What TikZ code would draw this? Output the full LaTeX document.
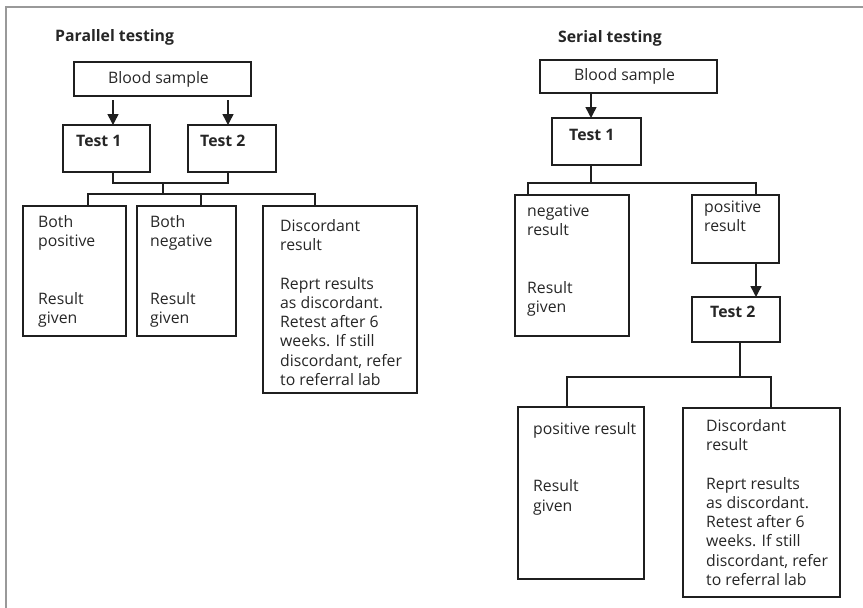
\documentclass[tikz,border=0pt]{standalone}
\usepackage{fontspec}
\setmainfont{Open Sans}
\usetikzlibrary{arrows.meta}
\newcommand\mlines[1]{\begin{tabular}[t]{@{}l@{}}#1\end{tabular}}
\begin{document}
\begin{tikzpicture}[x=1pt,y=-1pt,
  box/.style={draw=black!88, line width=1.5pt, inner sep=0pt, outer sep=0pt, anchor=north west},
  txt/.style={inner sep=0pt, anchor=base west, font=\fontsize{15.8}{19.2}\selectfont, text=black!85},
  ttl/.style={txt, font=\fontsize{15.8}{19.2}\selectfont\bfseries},
  ln/.style={line width=1.5pt, draw=black!88},
  arr/.style={ln, -{Triangle[length=11pt,width=11pt]}},
  frameline/.style={line width=2.6pt, draw=black!40}]
\useasboundingbox (0,0) rectangle (863,608);
% frame
\coordinate (fbl) at (5.8,608);
\coordinate (ftl) at (5.8,7);
\coordinate (ftr) at (863,7);
\draw[frameline] (fbl) -- (ftl) -- (ftr);

% ---------------- Parallel testing ----------------
\node[ttl] (ptitle) at (55,41.7) {Parallel testing};
\node[box, minimum width=177pt, minimum height=34pt] (bsL) at (74,62) {};
\node[txt] (bsLt) at (108,83.3) {Blood sample};
\node[box, minimum width=87pt, minimum height=47pt] (t1L) at (63,125) {};
\node[ttl] (t1Lt) at (76,146.7) {Test 1};
\node[box, minimum width=88pt, minimum height=47pt] (t2L) at (188,125) {};
\node[ttl] (t2Lt) at (200,146.7) {Test 2};
\node[box, minimum width=103pt, minimum height=130pt] (bpL) at (23,206) {};
\node[txt] (bpLt) at (38,227.7) {\mlines{Both\\positive\\[38.4pt]Result\\given}};
\node[box, minimum width=99pt, minimum height=130pt] (bnL) at (137,206) {};
\node[txt] (bnLt) at (150,227.7) {\mlines{Both\\negative\\[38.4pt]Result\\given}};
\node[box, minimum width=154pt, minimum height=187pt] (dL) at (263,206) {};
\node[txt] (dLt) at (280,231.7) {\mlines{Discordant\\result\\[19.2pt]Reprt results\\as discordant.\\Retest after 6\\weeks. If still\\discordant, refer\\to referral lab}};

\coordinate (xa1) at (113,0);
\coordinate (xa2) at (228,0);
\coordinate (jL) at (163,183);
\coordinate (hL) at (163,194);
\coordinate (x88) at (88,0);
\coordinate (x201) at (201,0);
\coordinate (x315) at (315,0);
\draw[arr] ([yshift=-4pt]bsL.south -| xa1) -- (t1L.north -| xa1);
\draw[arr] ([yshift=-4pt]bsL.south -| xa2) -- (t2L.north -| xa2);
\draw[ln] (t1L.south -| xa1) |- (jL) -| (t2L.south -| xa2);
\draw[ln] (jL) -- (hL);
\draw[ln] (bpL.north -| x88) |- (hL -| x315) -- (dL.north -| x315);
\draw[ln] (hL -| x201) -- (bnL.north -| x201);

% ---------------- Serial testing ----------------
\node[ttl] (stitle) at (558,42.3) {Serial testing};
\node[box, minimum width=177pt, minimum height=33pt] (bsR) at (540,60) {};
\node[txt] (bsRt) at (574,80) {Blood sample};
\node[box, minimum width=89pt, minimum height=47pt] (t1R) at (552,118) {};
\node[ttl] (t1Rt) at (569,140.7) {Test 1};
\node[box, minimum width=114pt, minimum height=141pt] (negR) at (515,195) {};
\node[txt] (negRt) at (527,216.5) {\mlines{negative\\result\\[38.4pt]Result\\given}};
\node[box, minimum width=87pt, minimum height=68pt] (posR) at (692,195) {};
\node[txt] (posRt) at (704,212) {\mlines{positive\\result}};
\node[box, minimum width=88pt, minimum height=45pt] (t2R) at (692,297) {};
\node[ttl] (t2Rt) at (710,317.3) {Test 2};
\node[box, minimum width=126pt, minimum height=172pt] (prR) at (518,407) {};
\node[txt] (prRt) at (533,434.3) {\mlines{positive result\\[38.4pt]Result\\given}};
\node[box, minimum width=157pt, minimum height=189pt] (dR) at (683,408) {};
\node[txt] (dRt) at (706,431.7) {\mlines{Discordant\\result\\[19.2pt]Reprt results\\as discordant.\\Retest after 6\\weeks. If still\\discordant, refer\\to referral lab}};

\coordinate (xs1) at (591,0);
\coordinate (jR) at (591,183);
\coordinate (x528) at (528,0);
\coordinate (x756) at (756,0);
\coordinate (xs2) at (740,0);
\coordinate (jR2) at (740,377);
\coordinate (x567) at (567,0);
\coordinate (x771) at (771,0);
\draw[arr] (bsR.south -| xs1) -- (t1R.north -| xs1);
\draw[ln] (t1R.south -| xs1) -- (jR);
\draw[ln] (negR.north -| x528) |- (jR -| x756) -- (posR.north -| x756);
\draw[arr] (posR.south -| x756) -- (t2R.north -| x756);
\draw[ln] (t2R.south -| xs2) -- (jR2);
\draw[ln] (prR.north -| x567) |- (jR2 -| x771) -- (dR.north -| x771);
\end{tikzpicture}
\end{document}
